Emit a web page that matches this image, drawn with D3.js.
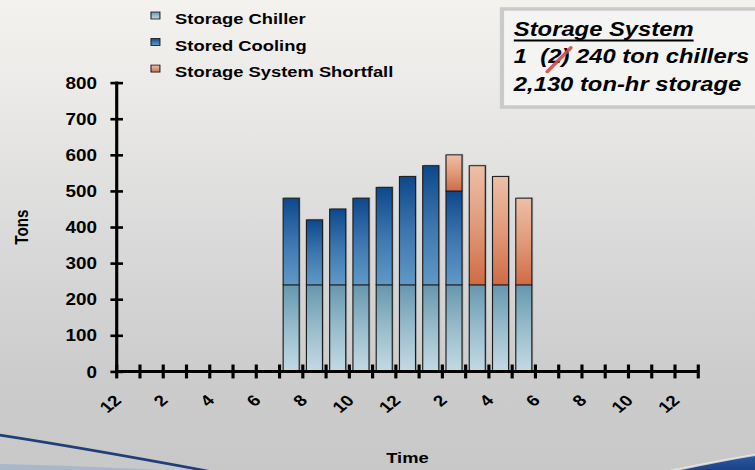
<!DOCTYPE html>
<html>
<head>
<meta charset="utf-8">
<script src="https://cdn.jsdelivr.net/npm/d3@7"></script>
<style>
  html, body { margin: 0; padding: 0; background: #d8d8d8; }
  svg { display: block; }
  text { font-family: "Liberation Sans", Arial, sans-serif; font-weight: bold; fill: #000; }
</style>
</head>
<body>
<svg id="chart"></svg>
<script>
// Hourly cooling load for a storage-based plant (tons)
const hours = [7, 8, 9, 10, 11, 12, 13, 14, 15, 16, 17];
const storageChiller = [240, 240, 240, 240, 240, 240, 240, 240, 240, 240, 240];
const storedCooling = [240, 180, 210, 240, 270, 300, 330, 260, 0, 0, 0];
const shortfall = [0, 0, 0, 0, 0, 0, 0, 100, 330, 300, 240];

const seriesNames = ["Storage Chiller", "Stored Cooling", "Storage System Shortfall"];
const yTicks = [0, 100, 200, 300, 400, 500, 600, 700, 800];
const hourLabels = ["12", "2", "4", "6", "8", "10", "12", "2", "4", "6", "8", "10", "12"];
const infoLines = ["Storage System", "1  (2) 240 ton chillers", "2,130 ton-hr storage"];

// Drawn in a 720x540 slide space, stretched onto the 755x470 page
const W = 720, H = 540;
const svg = d3.select("#chart")
  .attr("width", 755).attr("height", 470)
  .attr("viewBox", `0 0 ${W} ${H}`)
  .attr("preserveAspectRatio", "none");

const defs = svg.append("defs");
function vGrad(id, stops) {
  const g = defs.append("linearGradient").attr("id", id)
    .attr("x1", 0).attr("y1", 0).attr("x2", 0).attr("y2", 1);
  stops.forEach(([o, c]) => g.append("stop").attr("offset", o).attr("stop-color", c));
}
vGrad("bg", [[0, "#f3f2ef"], [0.2, "#ebeae8"], [0.5, "#dadada"], [0.8, "#cccccc"], [1, "#c8c8c8"]]);
vGrad("gChiller", [[0, "#6797ae"], [0.5, "#98bccc"], [1, "#c4dae4"]]);
vGrad("gStored", [[0, "#0d488c"], [0.5, "#3c76af"], [1, "#6099c6"]]);
vGrad("gShort", [[0, "#edbfa8"], [0.5, "#e09a7a"], [1, "#cf6b45"]]);
vGrad("gSwoosh", [[0, "#2a5aa0"], [1, "#163a80"]]);
const fills = ["url(#gChiller)", "url(#gStored)", "url(#gShort)"];

// Background and bottom swoosh
svg.append("rect").attr("width", W).attr("height", H).attr("fill", "url(#bg)");
svg.append("path").attr("d", "M -5,533 C 60,535 140,538 240,546 L -5,546 Z").attr("fill", "#a7b8cd");
svg.append("path").attr("d", "M -5,499 C 60,511 150,530 250,553")
  .attr("fill", "none").attr("stroke", "#1f3f78").attr("stroke-width", 3);
svg.append("path").attr("d", "M 628,546 C 660,537 690,530 725,523 L 725,546 Z").attr("fill", "url(#gSwoosh)");
svg.append("path").attr("d", "M 622,545 C 660,535 690,528 725,521")
  .attr("fill", "none").attr("stroke", "#ffffff").attr("stroke-opacity", 0.55).attr("stroke-width", 1.5);

// Plot geometry
const x0 = 111.3, x1 = 665.9, y0 = 426.8, yTop = 95.0;
const nSlots = 25;
const xHour = d3.scaleLinear().domain([0, nSlots]).range([x0, x1]);
const xBand = d3.scaleBand().domain(d3.range(nSlots)).range([x0, x1])
  .paddingInner(0.31).paddingOuter(0.155);
const y = d3.scaleLinear().domain([0, 800]).range([y0, yTop]);

// Stacked segments
const rows = hours.map((h, i) => ({ hour: h, chiller: storageChiller[i], stored: storedCooling[i], short: shortfall[i] }));
const stack = d3.stack().keys(["chiller", "stored", "short"])(rows);
const barG = svg.append("g");
stack.forEach((layer, k) => {
  const segs = layer.filter(d => d[1] > d[0]);
  barG.selectAll(null).data(segs).join("rect")
    .attr("x", d => xBand(d.data.hour) + 1.3)
    .attr("y", d => y(d[1]) - 1.2)
    .attr("width", xBand.bandwidth())
    .attr("height", d => y(d[0]) - y(d[1]))
    .attr("fill", "#7a7a7a").attr("fill-opacity", 0.45);
});
stack.forEach((layer, k) => {
  const segs = layer.filter(d => d[1] > d[0]);
  barG.selectAll(null).data(segs).join("rect")
    .attr("x", d => xBand(d.data.hour))
    .attr("y", d => y(d[1]))
    .attr("width", xBand.bandwidth())
    .attr("height", d => y(d[0]) - y(d[1]))
    .attr("fill", fills[k])
    .attr("stroke", "#1c1c1c").attr("stroke-width", 1.1);
});

// Y axis
const yAxisG = svg.append("g").attr("transform", `translate(${x0},0)`)
  .call(d3.axisLeft(y).tickValues(yTicks).tickSize(0).tickPadding(0).tickFormat(d3.format("d")));
yAxisG.select(".domain").remove();
yAxisG.selectAll(".tick line").remove();
yAxisG.selectAll(".tick").append("line")
  .attr("x1", -6).attr("x2", 6).attr("stroke", "#000").attr("stroke-width", 3);
yAxisG.selectAll(".tick text")
  .attr("x", -(x0 - 92.5)).attr("dy", "0.36em")
  .style("font-size", "18px").style("font-family", "Liberation Sans, Arial, sans-serif")
  .style("font-weight", "bold").attr("fill", "#000");
svg.append("line").attr("x1", x0).attr("x2", x0).attr("y1", yTop - 1.5).attr("y2", y0)
  .attr("stroke", "#000").attr("stroke-width", 3);

// X axis (ticks between hourly slots)
const xAxisG = svg.append("g");
xAxisG.append("line").attr("x1", x0).attr("x2", x1).attr("y1", y0).attr("y2", y0)
  .attr("stroke", "#000").attr("stroke-width", 3.3);
xAxisG.selectAll(null).data(d3.range(nSlots + 1)).join("line")
  .attr("x1", d => xHour(d)).attr("x2", d => xHour(d))
  .attr("y1", y0 - 8).attr("y2", y0 + 8)
  .attr("stroke", "#000").attr("stroke-width", 3);
xAxisG.selectAll(null).data(hourLabels).join("text")
  .attr("transform", (d, i) => `translate(${xHour(i * 2) + 1},${y0 + 30}) rotate(-45)`)
  .attr("text-anchor", "end").attr("dy", "0.35em")
  .style("font-size", "18px")
  .text(d => d);

// Axis titles
svg.append("text").attr("transform", `translate(27,261) rotate(-90)`)
  .attr("text-anchor", "middle").style("font-size", "17.5px").text("Tons");
svg.append("text").attr("x", (x0 + x1) / 2).attr("y", 532)
  .attr("text-anchor", "middle").style("font-size", "17.5px").text("Time");

// Legend
const legend = svg.append("g");
seriesNames.forEach((name, i) => {
  const ly = 27.6 + i * 30.5;
  legend.append("rect").attr("x", 144).attr("y", ly - 13.8).attr("width", 8.5).attr("height", 8)
    .attr("fill", fills[i]).attr("stroke", "#1c1c1c").attr("stroke-width", 1);
  legend.append("text").attr("x", 167).attr("y", ly).style("font-size", "17.5px").text(name);
});

// Plant description box
const box = svg.append("g");
box.append("rect").attr("x", 478.7).attr("y", 10.3).attr("width", 260).attr("height", 112.7)
  .attr("fill", "#f4f4f3").attr("stroke", "#cacaca").attr("stroke-width", 4);
const lineY = [41, 72.8, 104.2];
const infoTexts = infoLines.map((t, i) => box.append("text")
  .attr("x", 490).attr("y", lineY[i])
  .attr("xml:space", "preserve").style("white-space", "pre")
  .style("font-size", "22.7px").style("font-style", "italic")
  .text(t));
const titleLen = infoTexts[0].node().getComputedTextLength();
box.append("line").attr("x1", 490).attr("x2", 490 + titleLen)
  .attr("y1", lineY[0] + 5.5).attr("y2", lineY[0] + 5.5)
  .attr("stroke", "#000").attr("stroke-width", 2.4);
// strike the superseded chiller count
const ext = infoTexts[1].node().getExtentOfChar(4);
box.append("line")
  .attr("x1", ext.x - 1).attr("y1", lineY[1] + 9.5)
  .attr("x2", ext.x + ext.width + 9).attr("y2", lineY[1] - 18)
  .attr("stroke", "#d24a48").attr("stroke-opacity", 0.9).attr("stroke-width", 3.6)
  .attr("stroke-linecap", "round");
</script>
</body>
</html>
